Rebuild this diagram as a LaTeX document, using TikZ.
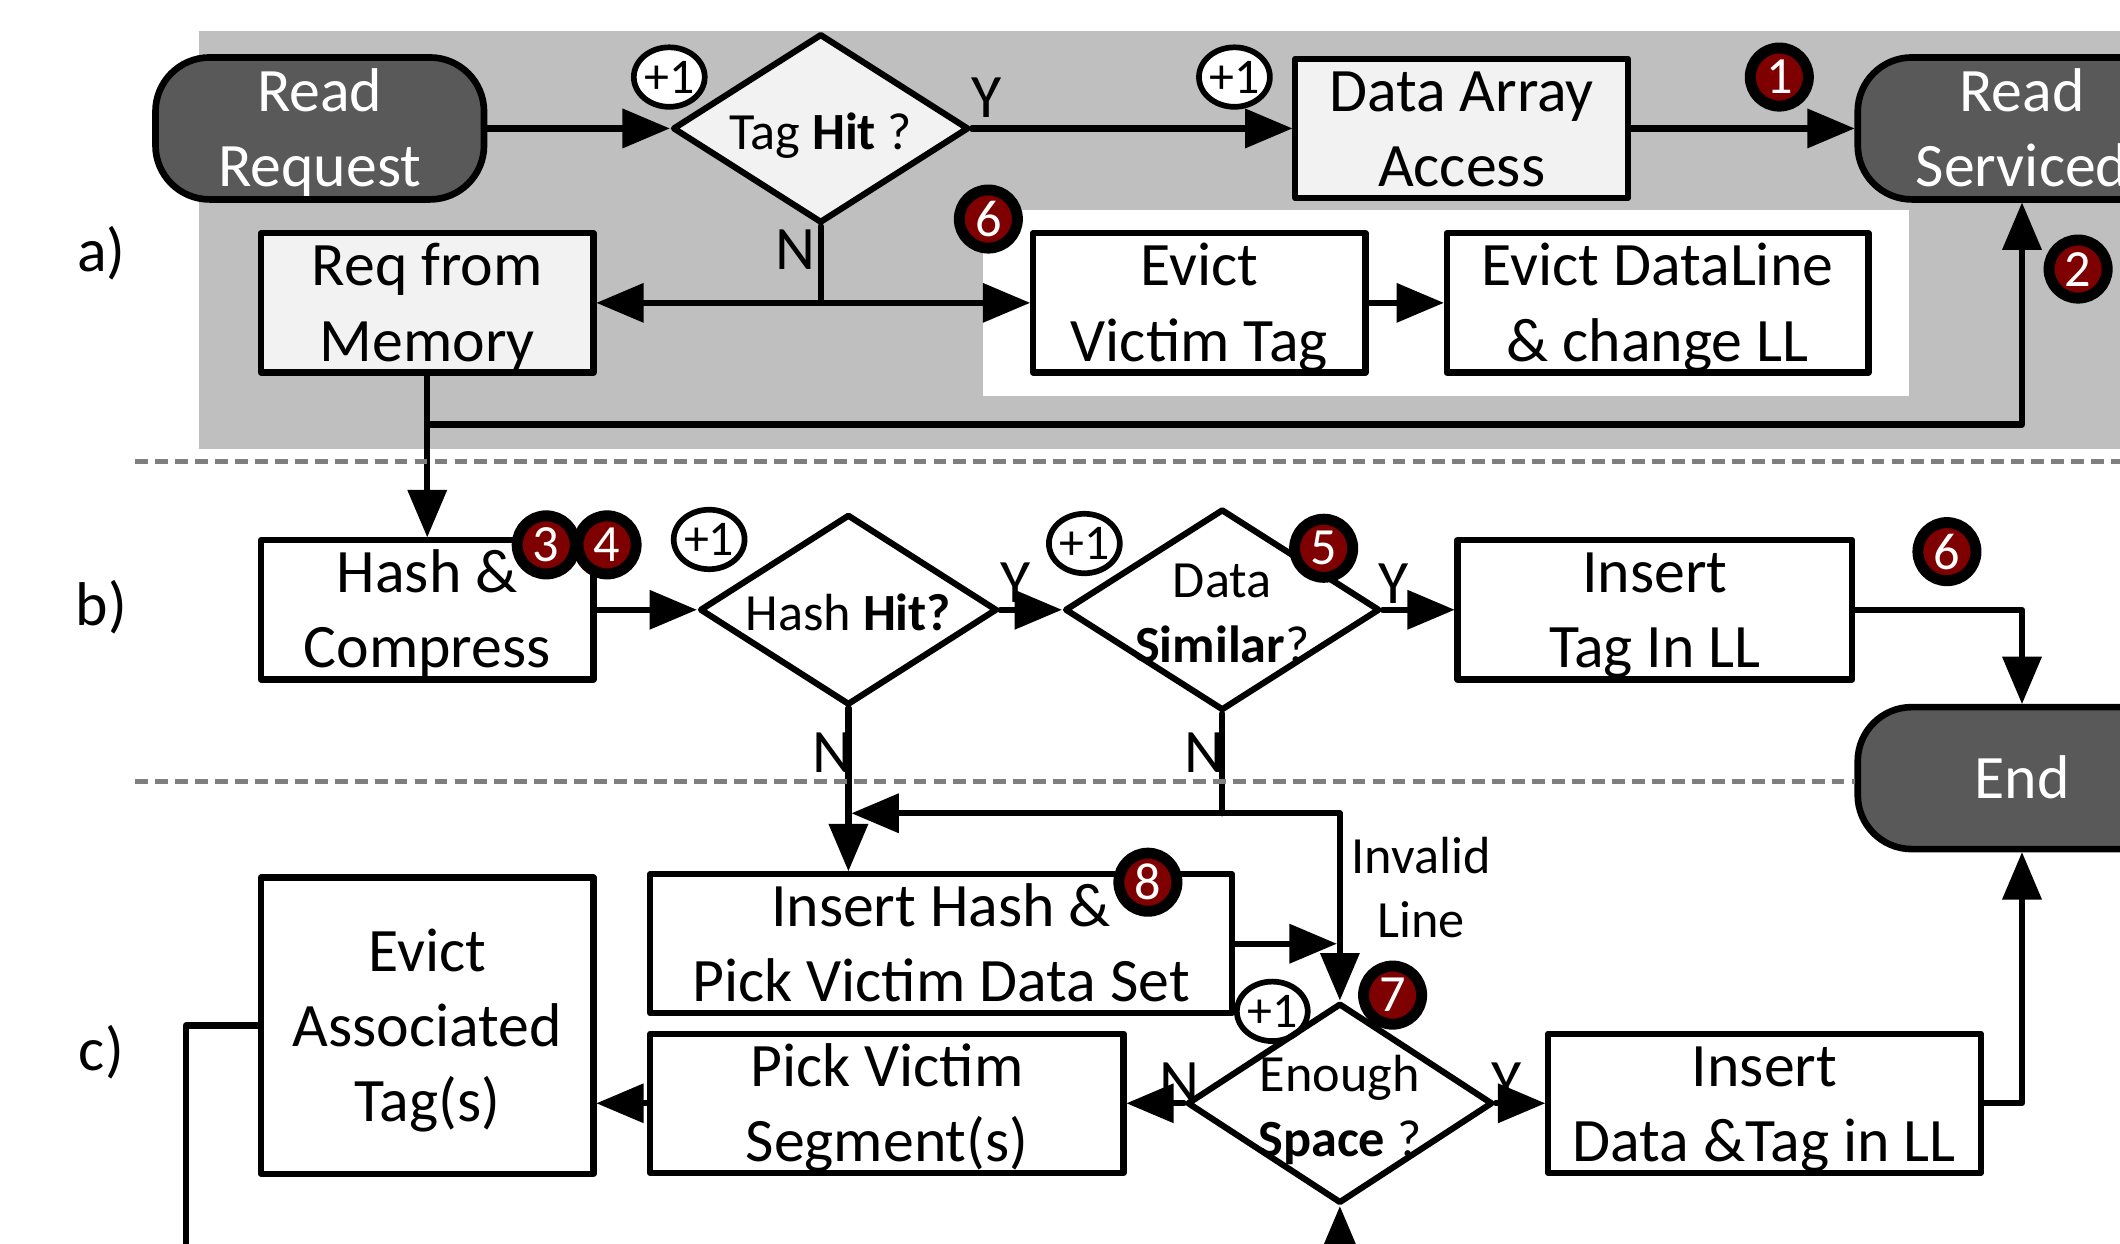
\documentclass[tikz,border=0pt]{standalone}
\usepackage{fontspec}
\setmainfont{Carlito}
\usepackage{tikz}
\usetikzlibrary{arrows}
\usetikzlibrary{shapes.geometric}
\definecolor{bfbfbf}{rgb}{0.7490196078431373,0.7490196078431373,0.7490196078431373}
\definecolor{vzvzvz}{rgb}{0.34901960784313724,0.34901960784313724,0.34901960784313724}
\definecolor{fsfsfs}{rgb}{0.9490196078431372,0.9490196078431372,0.9490196078431372}
\definecolor{xfqqqq}{rgb}{0.4980392156862745,0.,0.}
\definecolor{xfxfxf}{rgb}{0.4980392156862745,0.4980392156862745,0.4980392156862745}
\tikzstyle{every node}=[font=\fontsize{13}{15.8}\selectfont]
\newcommand{\lntop}{\rule{0pt}{0.39cm}}
\newcommand{\lnbot}{\rule[-0.085cm]{0pt}{0pt}}

\begin{document}
\begin{tikzpicture}[line cap=round,line join=round,>=triangle 45,x=1.0cm,y=1.0cm,line width=1.3pt,
  terminal/.style={rectangle,rounded corners=0.4cm,draw=black,line width=1.4pt,fill=vzvzvz,text=white,align=center,inner sep=0pt,minimum width=2.43cm,minimum height=1.05cm},
  process/.style={rectangle,draw=black,fill=white,align=center,inner sep=0pt,minimum height=1.03cm},
  decision/.style={diamond,draw=black,align=center,inner sep=-3pt,shape aspect=1.55,font=\fontsize{11}{13.7}\selectfont},
  stepno/.style={circle,draw=black,line width=2.3pt,fill=xfqqqq,text=white,inner sep=0pt,minimum size=0.43cm,font=\fontsize{11}{13}\selectfont},
  incr/.style={ellipse,draw=black,line width=1.2pt,fill=white,inner sep=0pt,minimum width=0.5cm,minimum height=0.44cm,font=\fontsize{10.5}{12}\selectfont}]
            \useasboundingbox (0.,0.) rectangle (15.68,9.2);
            \clip(0.,0.) rectangle (15.68,9.2);
            % part a) background
            \fill[color=bfbfbf] (1.47,5.88) rectangle (15.9,8.97);
            \fill[color=white] (7.27,6.27) rectangle (14.12,7.65);
            % boxes
            \node[terminal] (readreq) at (2.365,8.25) {\lntop Read\\Request\lnbot};
            \node[process,fill=fsfsfs,minimum width=2.46cm] (dataacc) at (10.81,8.25) {\lntop Data Array\\Access\lnbot};
            \node[terminal] (readsrv) at (14.955,8.25) {\lntop Read\\Serviced\lnbot};
            \node[process,fill=fsfsfs,minimum width=2.46cm] (reqmem) at (3.16,6.96) {\lntop Req from\\Memory\lnbot};
            \node[process,minimum width=2.46cm] (evtag) at (8.87,6.96) {\lntop Evict\\Victim Tag\lnbot};
            \node[process,minimum width=3.12cm] (evdl) at (12.26,6.96) {\lntop Evict DataLine\\\& change LL\lnbot};
            \node[process,minimum width=2.46cm] (hash) at (3.16,4.69) {\lntop Hash \&\\Compress\lnbot};
            \node[process,minimum width=2.92cm] (instag) at (12.24,4.69) {\lntop Insert\\Tag In LL\lnbot};
            \node[terminal] (endnode) at (14.955,3.445) {\lntop End\lnbot};
            \node[process,minimum width=2.46cm,minimum height=2.19cm] (evassoc) at (3.16,1.615) {\lntop Evict\\Associated\\Tag(s)\lnbot};
            \node[process,minimum width=4.30cm,minimum height=1.02cm] (inshash) at (6.96,2.22) {\lntop Insert Hash \&\\Pick Victim Data Set\lnbot};
            \node[process,minimum width=3.50cm,minimum height=1.02cm] (pickseg) at (6.56,1.04) {\lntop Pick Victim\\Segment(s)\lnbot};
            \node[process,minimum width=3.20cm] (insdata) at (13.05,1.04) {\lntop Insert\\Data \&Tag in LL\lnbot};
            % +1 counters
            \node[incr] (inc1) at (4.95,8.63) {+1};
            \node[incr] (inc2) at (9.13,8.63) {+1};
            \node[incr] (inc3) at (5.245,5.21) {+1};
            \node[incr] (inc4) at (8.02,5.18) {+1};
            \node[incr] (inc5) at (9.41,1.72) {+1};
            % decisions
            \node[decision,fill=fsfsfs,minimum width=2.19cm,minimum height=1.40cm] (taghit) at (6.07,8.25) {\lntop Tag \textbf{Hit} ?\lnbot};
            \node[decision,minimum width=2.20cm,minimum height=1.41cm] (hashhit) at (6.275,4.69) {\lntop Hash \textbf{Hit?}\lnbot};
            \node[decision,minimum width=2.33cm,minimum height=1.49cm] (datasim) at (9.04,4.69) {\lntop Data\\\textbf{Similar}?\lnbot};
            \node[decision,minimum width=2.26cm,minimum height=1.48cm] (enough) at (9.91,1.04) {\lntop Enough\\\textbf{Space} ?\lnbot};
            % connectors
            \draw [->] (readreq.east) -- (taghit.west);
            \draw [->] (taghit.east) -- (dataacc.west);
            \draw [->] (dataacc.east) -- (readsrv.west);
            \draw (taghit.south) -- (taghit.south |- reqmem.east);
            \draw [<->] (reqmem.east) -- (evtag.west);
            \draw [->] (evtag.east) -- (evdl.west);
            \coordinate (memturn) at (3.16,6.06);
            \draw [->] (reqmem.south) -- (memturn) -| (readsrv.south);
            \draw [->] (memturn) -- (hash.north);
            \draw [->] (hash.east) -- (hashhit.west);
            \draw [->] (hashhit.east) -- (datasim.west);
            \draw [->] (datasim.east) -- (instag.west);
            \draw [->] (instag.east) -| (endnode.north);
            \draw [->] (hashhit.south) -- (hashhit.south |- inshash.north);
            \coordinate (simturn) at (9.04,3.185);
            \draw (datasim.south) -- (simturn);
            \draw [->] (simturn) -- ([xshift=0.7pt]hashhit.south |- simturn);
            \draw [->] (simturn) -| (enough.north);
            \draw [->] (inshash.east) -- ([xshift=-0.7pt]inshash.east -| enough.north);
            \draw [->] (enough.west) -- (pickseg.east);
            \draw [->] (pickseg.west) -- (pickseg.west -| evassoc.east);
            \draw [->] (enough.east) -- (insdata.west);
            \draw [->] (insdata.east) -| (endnode.south);
            \coordinate (tagsout) at (1.375,-0.3);
            \draw (evassoc.west) -| (tagsout);
            \coordinate (spacein) at (9.91,-0.3);
            \draw [->] (spacein) -- (enough.south);
            % separators
            \draw [line width=1.05pt,color=xfxfxf,line cap=butt,dash pattern=on 2.7pt off 1.5pt] (1.,5.79)-- (15.9,5.79);
            \draw [line width=1.05pt,color=xfxfxf,line cap=butt,dash pattern=on 2.7pt off 1.5pt] (1.,3.42)-- (13.72,3.42);
            % step numbers
            \node[stepno] (st1) at (13.16,8.63) {1};
            \node[stepno] (st2) at (15.37,7.21) {2};
            \node[stepno] (st6a) at (7.31,7.58) {6};
            \node[stepno] (st3) at (4.04,5.17) {3};
            \node[stepno] (st4) at (4.49,5.17) {4};
            \node[stepno] (st5) at (9.79,5.145) {5};
            \node[stepno] (st6b) at (14.40,5.12) {6};
            \node[stepno] (st8) at (8.49,2.675) {8};
            \node[stepno] (st7) at (10.30,1.84) {7};
            % labels
            \node (ytag) at (7.30,8.48) {Y};
            \node (ntag) at (5.88,7.35) {N};
            \node (yhash) at (7.51,4.89) {Y};
            \node (ysim) at (10.31,4.885) {Y};
            \node (nhash) at (6.16,3.63) {N};
            \node (nsim) at (8.91,3.63) {N};
            \node (nspace) at (8.725,1.19) {N};
            \node (yspace) at (11.14,1.19) {Y};
            \node[align=center,font=\fontsize{11}{13.4}\selectfont] (invline) at (10.51,2.635) {Invalid\\Line};
            \node (parta) at (0.75,7.33) {a)};
            \node (partb) at (0.75,4.71) {b)};
            \node (partc) at (0.75,1.42) {c)};
\end{tikzpicture}
\end{document}
